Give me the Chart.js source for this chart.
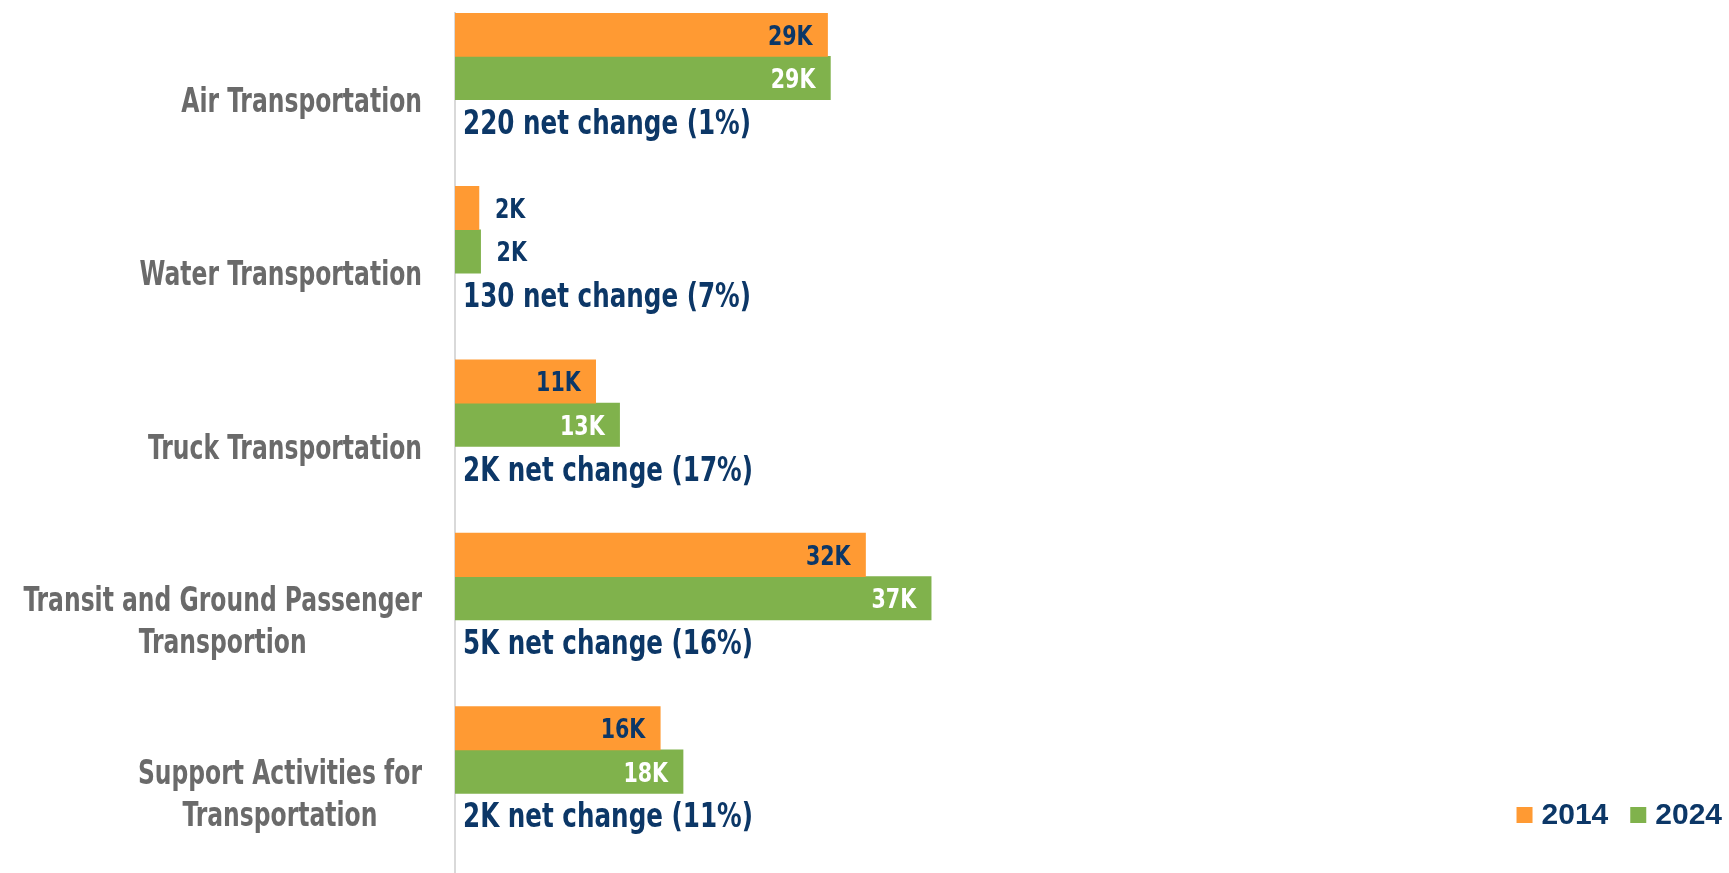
<!DOCTYPE html>
<html>
<head>
<meta charset="utf-8">
<script src="https://cdn.jsdelivr.net/npm/chart.js@4.4.1/dist/chart.umd.min.js"></script>
<style>
  html, body { margin: 0; padding: 0; background: #fff; overflow: hidden; }
  #wrap { position: relative; width: 1729px; height: 880px; }
</style>
</head>
<body>
<div id="wrap"><canvas id="chart"></canvas></div>
<script>
// Dados (empregos por setor)
const categories = [
  ["Air Transportation"],
  ["Water Transportation"],
  ["Truck Transportation"],
  ["Transit and Ground Passenger", "Transportion"],
  ["Support Activities for", "Transportation"],
]
const seriesLabels = ["2014", "2024"]
const jobs2014 = [28950, 1860, 10930, 31900, 15950]
const jobs2024 = [29170, 1990, 12790, 37000, 17720]
const spacer = [null, null, null, null, null]

const ORANGE = "#FF9A33"
const GREEN = "#80B24C"
const NAVY = "#0C3767"
const GRAY = "#6A6A6A"
const NARROW = "'Liberation Sans Narrow', 'DejaVu Sans Condensed', 'Arial Narrow', sans-serif"

const fmtK = (v) => Math.round(v / 1000) + "K"
const fmtChange = (d) => (Math.abs(d) >= 1000 ? Math.round(d / 1000) + "K" : String(Math.round(d / 10) * 10))

// desenha texto comprimido horizontalmente (fonte condensada)
const narrowText = (ctx, txt, x, y, align, sx) => {
  ctx.save()
  ctx.translate(x, y)
  ctx.scale(sx, 1)
  ctx.textAlign = align
  ctx.textBaseline = "alphabetic"
  ctx.fillText(txt, 0, 0)
  ctx.restore()
}
const narrowWidth = (ctx, txt, sx) => ctx.measureText(txt).width * sx

// Rótulos das categorias (bloco alinhado à direita, linhas centralizadas)
const categoryLabels = {
  id: "categoryLabels",
  afterDraw(chart) {
    const { ctx, scales } = chart
    const y = scales.y
    const sx = 0.767
    ctx.save()
    ctx.font = "bold 34px " + NARROW
    ctx.fillStyle = GRAY
    categories.forEach((lines, i) => {
      const cy = y.getPixelForValue(i)
      const maxW = Math.max(...lines.map((l) => narrowWidth(ctx, l, sx)))
      const cx = 422 - maxW / 2
      lines.forEach((l, j) => {
        narrowText(ctx, l, cx, cy + (j - (lines.length - 1) / 2) * 42 + 12, "center", sx)
      })
    })
    ctx.restore()
  },
}

// Valores nas barras
const valueLabels = {
  id: "valueLabels",
  afterDatasetsDraw(chart) {
    const { ctx } = chart
    const sx = 0.88
    ctx.save()
    ctx.font = "bold 26px " + NARROW
    ;[0, 1].forEach((di) => {
      const meta = chart.getDatasetMeta(di)
      const data = chart.data.datasets[di].data
      meta.data.forEach((el, i) => {
        const txt = fmtK(data[i])
        const w = narrowWidth(ctx, txt, sx)
        if (el.x - el.base > w + 30) {
          ctx.fillStyle = di === 0 ? NAVY : "#FFFFFF"
          narrowText(ctx, txt, el.x - 15, el.y + 10, "right", sx)
        } else {
          ctx.fillStyle = NAVY
          narrowText(ctx, txt, el.x + 16, el.y + 10, "left", sx)
        }
      })
    })
    ctx.restore()
  },
}

// Variação líquida abaixo de cada par de barras
const netChange = {
  id: "netChange",
  afterDatasetsDraw(chart) {
    const { ctx, chartArea } = chart
    const meta = chart.getDatasetMeta(1)
    ctx.save()
    ctx.font = "bold 34px " + NARROW
    ctx.fillStyle = NAVY
    meta.data.forEach((el, i) => {
      const d = jobs2024[i] - jobs2014[i]
      const pct = Math.round((d / jobs2014[i]) * 100)
      const txt = fmtChange(d) + " net change (" + pct + "%)"
      narrowText(ctx, txt, chartArea.left + 8, el.y + el.height + 12.5, "left", 0.805)
    })
    ctx.restore()
  },
}

// Legenda no canto inferior direito
const cornerLegend = {
  id: "cornerLegend",
  afterDraw(chart) {
    const { ctx } = chart
    const colors = [ORANGE, GREEN]
    ctx.save()
    ctx.font = "bold 30px 'Liberation Sans', Arial, sans-serif"
    ctx.textBaseline = "alphabetic"
    ctx.textAlign = "left"
    const box = 16
    const gap = 9
    const itemGap = 22
    const widths = seriesLabels.map((t) => ctx.measureText(t).width)
    const total = widths.reduce((a, w) => a + box + gap + w, 0) + itemGap * (seriesLabels.length - 1)
    let x = 1722 - total
    seriesLabels.forEach((t, i) => {
      ctx.fillStyle = colors[i]
      ctx.fillRect(x, 807, box, box)
      x += box + gap
      ctx.fillStyle = NAVY
      ctx.fillText(t, x, 824)
      x += widths[i] + itemGap
    })
    ctx.restore()
  },
}

document.addEventListener("DOMContentLoaded", () => {
  const ctx = document.getElementById("chart").getContext("2d")
  new Chart(ctx, {
    type: "bar",
    data: {
      labels: categories,
      datasets: [
        { label: seriesLabels[0], data: jobs2014, backgroundColor: ORANGE },
        { label: seriesLabels[1], data: jobs2024, backgroundColor: GREEN },
        { label: "", data: spacer },
        { label: "", data: spacer },
      ],
    },
    options: {
      indexAxis: "y",
      responsive: true,
      maintainAspectRatio: false,
      animation: false,
      layout: { padding: { top: 13, right: 0, bottom: 0, left: 0 } },
      datasets: {
        bar: { barPercentage: 1, categoryPercentage: 1, borderWidth: 0 },
      },
      scales: {
        x: { display: false, min: 0, max: 99000 },
        y: {
          grid: { display: false },
          border: { display: true, color: "#D9D9D9", width: 2 },
          ticks: { display: false },
          afterFit: (scale) => {
            scale.width = 455
          },
        },
      },
      plugins: {
        legend: { display: false },
        tooltip: { enabled: false },
      },
    },
    plugins: [categoryLabels, valueLabels, netChange, cornerLegend],
  })
})
</script>
</body>
</html>
